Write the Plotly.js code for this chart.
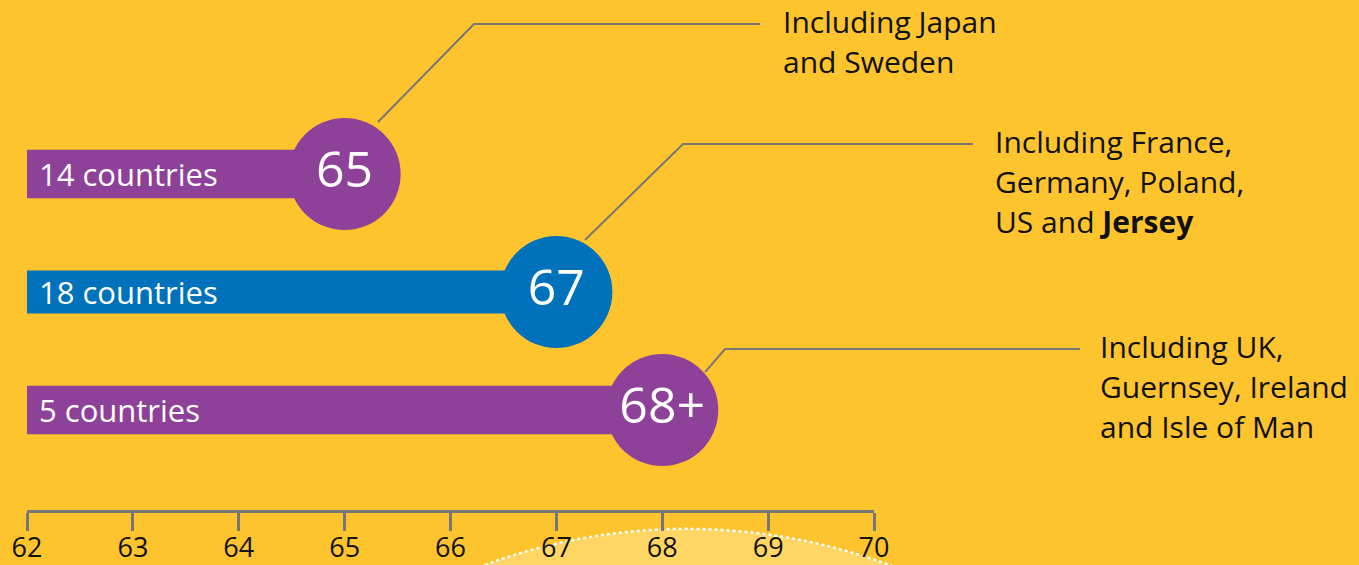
<!DOCTYPE html>
<html><head><meta charset="utf-8">
<script src="https://cdn.plot.ly/plotly-3.0.1.min.js"></script>
<style>html,body{margin:0;padding:0;background:#FEC42E;}</style>
</head><body>
<div id="chart" style="width:1359px;height:565px;"></div>
<script>
// Data
const ages = [65, 67, 68];
const circleLabels = ['65', '67', '68+'];
const barLabels = ['14 countries', '18 countries', '5 countries'];
const notes = [
  ['Including Japan', 'and Sweden'],
  ['Including France,', 'Germany, Poland,', 'US and <b>Jersey</b>'],
  ['Including UK,', 'Guernsey, Ireland', 'and Isle of Man']
];
const tickVals = [62, 63, 64, 65, 66, 67, 68, 69, 70];

const base = 62;
const rows = [2, 1, 0];
const barWidths = [0.41, 0.365, 0.41];
const colors = ['#8E4198', '#0072BC', '#8E4198'];
const FONT = 'Open Sans, Noto Sans, sans-serif';
const XR = [62, 70], YR = [-0.847, 3.475];
const px = x => (x - XR[0]) / (XR[1] - XR[0]);
const py = y => (y - YR[0]) / (YR[1] - YR[0]);

const traces = [
  {
    type: 'bar', orientation: 'h',
    x: ages.map(a => a - base), base: ages.map(() => base), y: rows,
    width: barWidths, marker: {color: colors}, hoverinfo: 'skip'
  },
  {
    type: 'scatter', mode: 'markers+text',
    x: ages, y: rows, text: circleLabels,
    textposition: 'middle center',
    textfont: {family: FONT, size: 50, color: '#ffffff'},
    marker: {size: 112, color: colors, line: {width: 0}},
    cliponaxis: false, hoverinfo: 'skip'
  }
];

// leader line geometry (offsets relative to value/row, in axis units)
const leaders = [
  {sx: 0.315, sy: 0.441, ex: 1.222, ey: 1.271, hx: 3.923, tx: 4.122},
  {sx: 0.270, sy: 0.441, ex: 1.196, ey: 1.254, hx: 3.935, tx: 4.124},
  {sx: 0.404, sy: 0.322, ex: 0.593, ey: 0.517, hx: 3.946, tx: 4.116}
];

const shapes = [{
  type: 'circle', xref: 'paper', yref: 'paper', layer: 'below',
  x0: 0.0886, x1: 1.47, y0: -2.331, y1: -0.037,
  fillcolor: '#FFD564', line: {color: '#ffffff', width: 2.5, dash: 'dot'}
}];
const annotations = [];
ages.forEach((a, i) => {
  const L = leaders[i], r = rows[i];
  shapes.push({
    type: 'path', xref: 'paper', yref: 'paper', layer: 'above',
    path: `M ${px(a + L.sx)} ${py(r + L.sy)} L ${px(a + L.ex)} ${py(r + L.ey)} L ${px(a + L.hx)} ${py(r + L.ey)}`,
    line: {color: '#777777', width: 2}
  });
  notes[i].forEach((t, j) => {
    annotations.push({
      xref: 'paper', yref: 'paper', x: px(a + L.tx), y: py(r + L.ey + 0.02 - j * 0.339),
      text: t, showarrow: false, xanchor: 'left', yanchor: 'middle', align: 'left',
      font: {family: FONT, size: 30, color: '#111111'}
    });
  });
  annotations.push({
    xref: 'x', yref: 'y', x: base, y: r, xshift: 10,
    text: barLabels[i], showarrow: false, xanchor: 'left', yanchor: 'middle',
    font: {family: FONT, size: 31, color: '#ffffff'}
  });
});

const layout = {
  width: 1359, height: 565,
  margin: {l: 27, r: 485, t: 0, b: 55},
  paper_bgcolor: '#FEC42E', plot_bgcolor: 'rgba(0,0,0,0)',
  showlegend: false, barmode: 'overlay',
  xaxis: {
    range: XR, tickvals: tickVals, ticktext: tickVals.map(String),
    showgrid: false, zeroline: false, showline: true, linecolor: '#777777', linewidth: 3,
    ticks: 'outside', ticklen: 18, tickwidth: 3, tickcolor: '#777777',
    ticklabelstandoff: -6,
    tickfont: {family: FONT, size: 27, color: '#111111'}, fixedrange: true
  },
  yaxis: {
    range: YR, showgrid: false, zeroline: false, showline: false,
    showticklabels: false, ticks: '', fixedrange: true
  },
  shapes: shapes, annotations: annotations
};

Plotly.newPlot('chart', traces, layout, {displayModeBar: false, staticPlot: true});
</script>
</body></html>
